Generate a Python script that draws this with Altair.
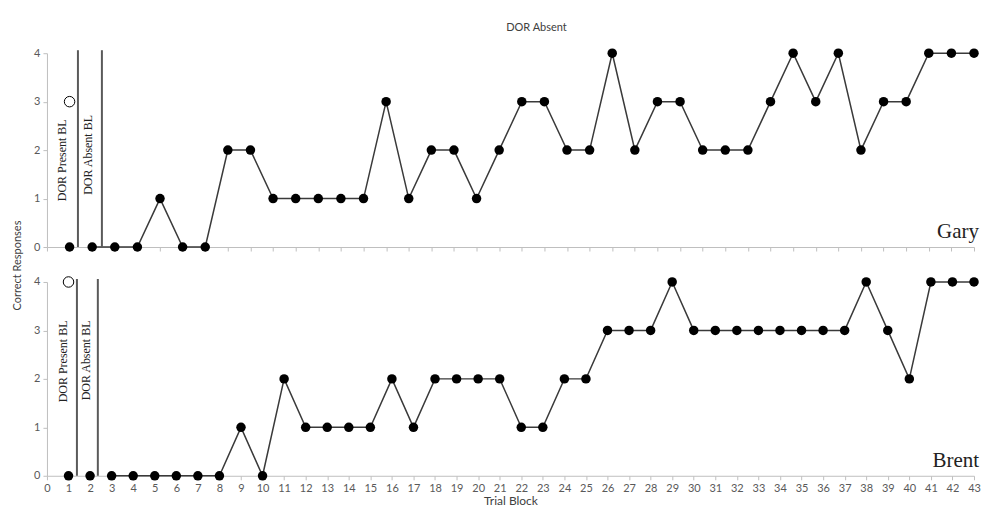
import altair as alt
import pandas as pd

# ---- data ----
gary_trials = list(range(1, 42))
gary_correct = [0, 0, 0, 0, 1, 0, 0, 2, 2, 1,
                1, 1, 1, 1, 3, 1, 2, 2, 1, 2,
                3, 3, 2, 2, 4, 2, 3, 3, 2, 2,
                2, 3, 4, 3, 4, 2, 3, 3, 4, 4,
                4]
gary_line_from = 2          # first trial joined by the line
gary_present_trial = [1]    # open circle (DOR present baseline)
gary_present_value = [3]
gary_phase_lines = [1.37, 2.43]

brent_trials = list(range(1, 44))
brent_correct = [0, 0, 0, 0, 0, 0, 0, 0, 1, 0,
                 2, 1, 1, 1, 1, 2, 1, 2, 2, 2,
                 2, 1, 1, 2, 2, 3, 3, 3, 4, 3,
                 3, 3, 3, 3, 3, 3, 3, 4, 3, 2,
                 4, 4, 4]
brent_line_from = 3
brent_present_trial = [1]
brent_present_value = [4]
brent_phase_lines = [1.39, 2.36]

phase_labels = ["DOR Present BL", "DOR Absent BL"]
gary_label_x = [0.66, 1.81]
gary_label_y = [1.79, 1.90]
brent_label_x = [0.74, 1.81]
brent_label_y = [2.36, 2.38]

AXIS_GRAY = "#bfbfbf"
LABEL_GRAY = "#595959"
TITLE_GRAY = "#404040"
SANS = "Lato"
SERIF = "Liberation Serif"


def panel(name, trials, correct, line_from, pres_x, pres_y, phases,
          lab_x, lab_y, xmax, width, height, show_labels, y_title):
    df = pd.DataFrame({"x": trials, "y": correct})
    line_df = df[df["x"] >= line_from]
    pres_df = pd.DataFrame({"x": pres_x, "y": pres_y})
    phase_df = pd.DataFrame({"x": phases, "y": [0] * len(phases)})
    lab_df = pd.DataFrame({"x": lab_x, "y": lab_y, "t": phase_labels})
    name_df = pd.DataFrame({"x": [xmax], "y": [0], "t": [name]})

    xscale = alt.Scale(domain=[0, xmax], nice=False, zero=False)
    yscale = alt.Scale(domain=[0, 4], nice=False)

    xaxis = alt.Axis(values=list(range(0, xmax + 1)), grid=False,
                     labels=show_labels, tickSize=4, domainColor=AXIS_GRAY,
                     tickColor=AXIS_GRAY, labelColor=LABEL_GRAY,
                     labelFont=SANS, labelFontSize=11, labelPadding=3,
                     labelFlush=False, labelOverlap=False,
                     title="Trial Block" if show_labels else None,
                     titleFont=SANS, titleFontSize=12, titleFontWeight="normal",
                     titleColor=TITLE_GRAY, titlePadding=2)
    if y_title:
        yaxis = alt.Axis(values=[0, 1, 2, 3, 4], grid=False, tickSize=4,
                         domainColor=AXIS_GRAY, tickColor=AXIS_GRAY,
                         labelColor=LABEL_GRAY, labelFont=SANS,
                         labelFontSize=11, labelPadding=3,
                         title="Correct Responses", titleFont=SANS,
                         titleFontSize=11, titleFontWeight="normal",
                         titleColor=TITLE_GRAY, titleX=-24, titleY=212,
                         titleAngle=270, titleBaseline="bottom",
                         titleAlign="center")
    else:
        yaxis = alt.Axis(values=[0, 1, 2, 3, 4], grid=False, tickSize=4,
                         domainColor=AXIS_GRAY, tickColor=AXIS_GRAY,
                         labelColor=LABEL_GRAY, labelFont=SANS,
                         labelFontSize=11, labelPadding=3, title=None)

    X = alt.X("x:Q", scale=xscale, axis=xaxis)
    Y = alt.Y("y:Q", scale=yscale, axis=yaxis)

    line = alt.Chart(line_df).mark_line(color="#3a3a3a", strokeWidth=1.5).encode(
        x=X, y=Y)
    pts = alt.Chart(df).mark_circle(color="black", opacity=1, size=90).encode(
        x=X, y=Y)
    pres = alt.Chart(pres_df).mark_point(shape="circle", filled=False,
                                         color="black", fill="white",
                                         strokeWidth=1, size=110, opacity=1).encode(
        x=X, y=Y)
    rules = alt.Chart(phase_df).mark_rule(color="#5a5a5a", strokeWidth=2).encode(
        x=X, y=Y, y2=alt.value(-3))
    labs = alt.Chart(lab_df).mark_text(angle=270, font=SERIF, fontSize=12,
                                       color="#222222", align="center",
                                       baseline="middle").encode(
        x=X, y=Y, text="t:N")
    name_txt = alt.Chart(name_df).mark_text(
        font=SERIF, fontSize=21, color="#222222", align="right",
        baseline="alphabetic", dx=5, dy=-9).encode(
        x=X, y=Y, text="t:N")

    return alt.layer(line, pts, pres, rules, labs, name_txt).properties(
        width=width, height=height)


top = panel("Gary", gary_trials, gary_correct, gary_line_from,
            gary_present_trial, gary_present_value, gary_phase_lines,
            gary_label_x, gary_label_y, 41, 928, 194, False, True).properties(
    title=alt.TitleParams("DOR Absent", font=SANS, fontSize=11,
                          fontWeight="normal", color=TITLE_GRAY,
                          anchor="middle", dx=26, offset=14))

bottom = panel("Brent", brent_trials, brent_correct, brent_line_from,
               brent_present_trial, brent_present_value, brent_phase_lines,
               brent_label_x, brent_label_y, 43, 928, 194, True, False)

chart = alt.vconcat(top, bottom, spacing=35, bounds="flush").properties(
    padding={"left": 4, "top": 14, "right": 0, "bottom": 0}
).configure_view(stroke=None)

chart.save("out.html", embed_options={"renderer": "svg", "actions": False})
